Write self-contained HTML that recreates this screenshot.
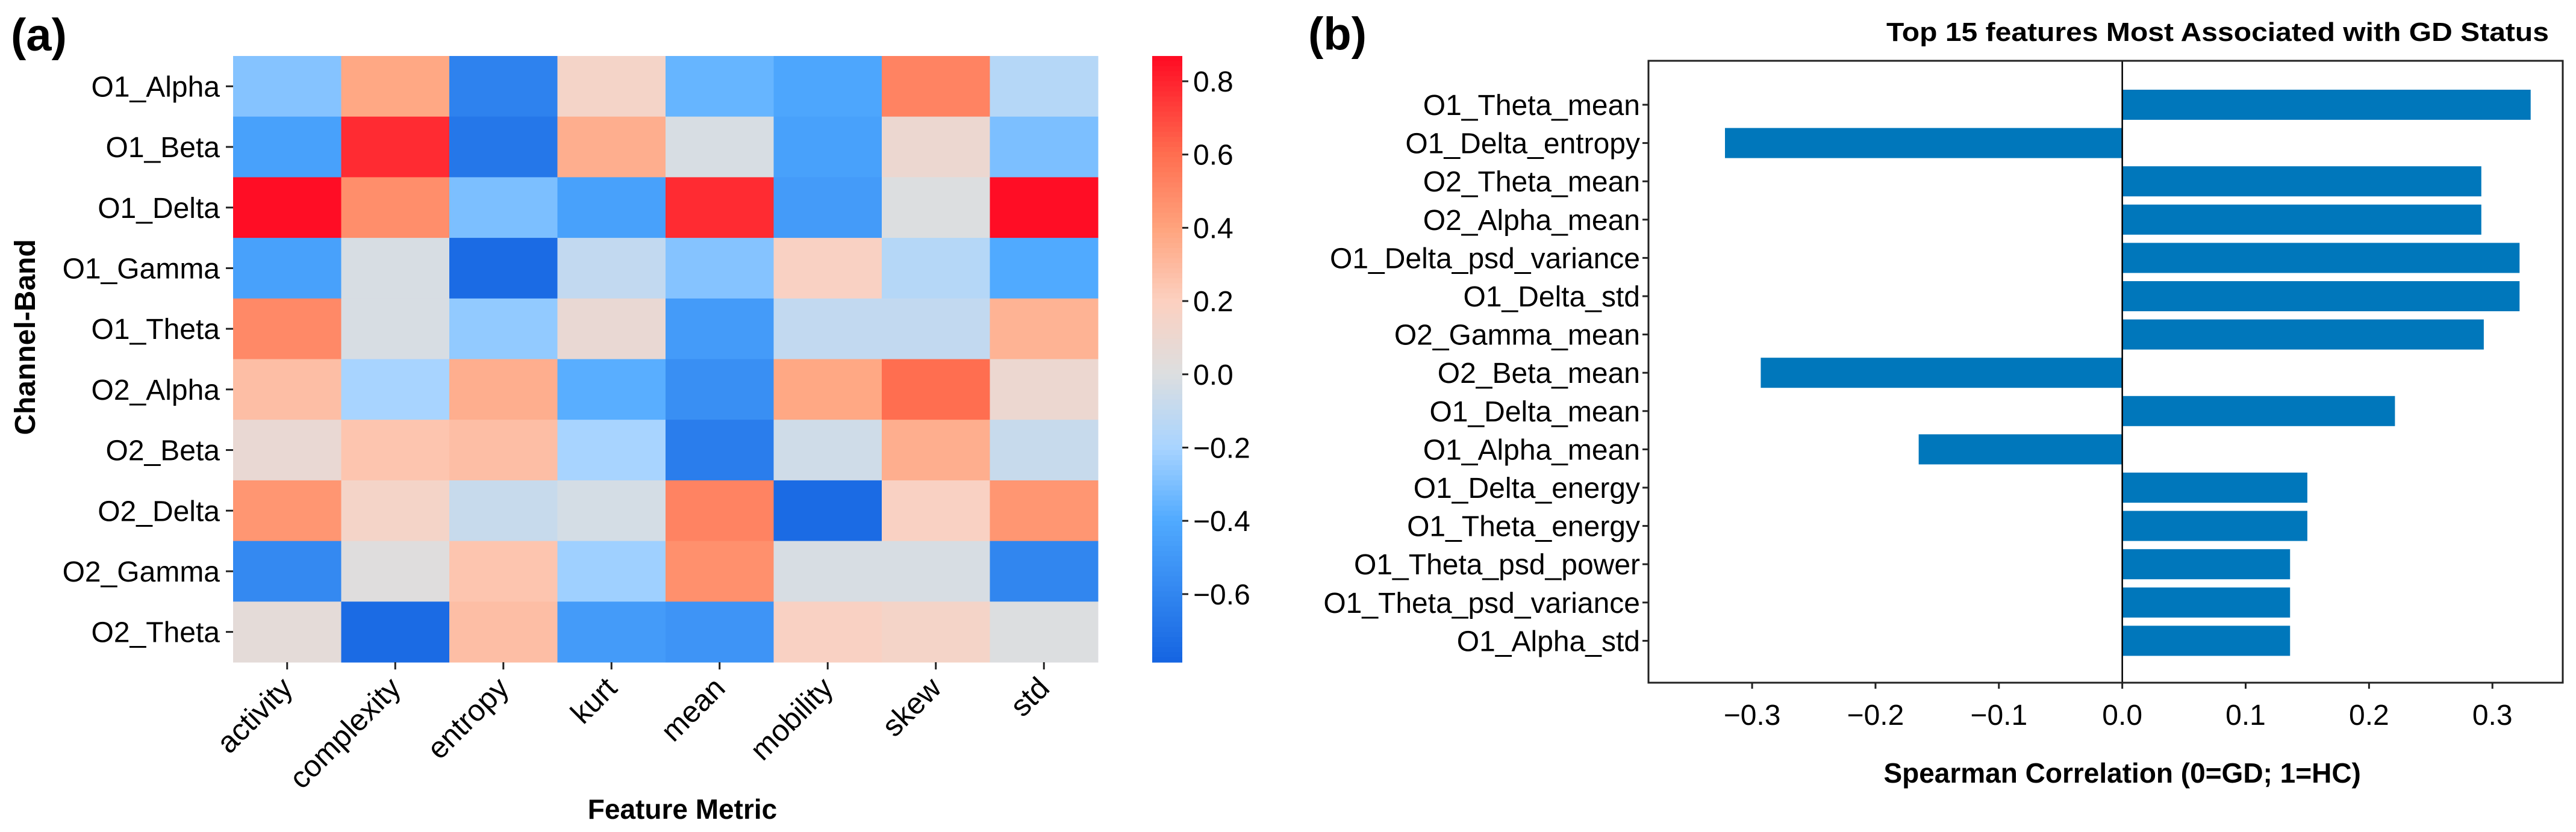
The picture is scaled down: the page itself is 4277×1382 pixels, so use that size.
<!DOCTYPE html>
<html><head><meta charset="utf-8">
<style>
html,body{margin:0;padding:0;background:#fff;}
svg{display:block;font-family:"Liberation Sans",sans-serif;}
</style></head>
<body>
<svg id="fig" width="4277" height="1382" viewBox="0 0 4277 1382" xmlns="http://www.w3.org/2000/svg">
<rect width="4277" height="1382" fill="#fff"/>
<g id="pa"></g>
<g id="pb"></g>
</svg>
<script>
// ---- Panel (a) data ----
const rowLabels = ["O1_Alpha","O1_Beta","O1_Delta","O1_Gamma","O1_Theta","O2_Alpha","O2_Beta","O2_Delta","O2_Gamma","O2_Theta"];
const colLabels = ["activity","complexity","entropy","kurt","mean","mobility","skew","std"];
const heatValues = [
 [-0.28, 0.38,-0.62, 0.15,-0.35,-0.42, 0.52,-0.15],
 [-0.45, 0.78,-0.68, 0.35,-0.02,-0.45, 0.10,-0.30],
 [ 0.86, 0.48,-0.30,-0.45, 0.78,-0.48, 0.00, 0.86],
 [-0.45,-0.02,-0.75,-0.10,-0.28, 0.18,-0.15,-0.40],
 [ 0.50,-0.02,-0.25, 0.08,-0.48,-0.10,-0.10, 0.33],
 [ 0.28,-0.20, 0.35,-0.38,-0.55, 0.38, 0.60, 0.10],
 [ 0.08, 0.25, 0.28,-0.20,-0.65,-0.05, 0.35,-0.08],
 [ 0.45, 0.15,-0.08,-0.03, 0.52,-0.75, 0.18, 0.45],
 [-0.58, 0.02, 0.25,-0.22, 0.47,-0.02,-0.02,-0.60],
 [ 0.05,-0.75, 0.28,-0.48,-0.52, 0.18, 0.15, 0.00]
];
const cbarTicks = [0.8,0.6,0.4,0.2,0.0,-0.2,-0.4,-0.6];
const cbarTickLabels = ["0.8","0.6","0.4","0.2","0.0","\u22120.2","\u22120.4","\u22120.6"];
const cbarMin = -0.786, cbarMax = 0.869;

// ---- Panel (b) data ----
const featureNames = ["O1_Theta_mean","O1_Delta_entropy","O2_Theta_mean","O2_Alpha_mean","O1_Delta_psd_variance","O1_Delta_std","O2_Gamma_mean","O2_Beta_mean","O1_Delta_mean","O1_Alpha_mean","O1_Delta_energy","O1_Theta_energy","O1_Theta_psd_power","O1_Theta_psd_variance","O1_Alpha_std"];
const corrValues = [0.331,-0.322,0.291,0.291,0.322,0.322,0.293,-0.293,0.221,-0.165,0.150,0.150,0.136,0.136,0.136];
const xTicks = [-0.3,-0.2,-0.1,0.0,0.1,0.2,0.3];
const xTickLabels = ["\u22120.3","\u22120.2","\u22120.1","0.0","0.1","0.2","0.3"];

const NS="http://www.w3.org/2000/svg";
function mk(parent,tag,attrs,text){const e=document.createElementNS(NS,tag);for(const k in attrs)e.setAttribute(k,attrs[k]);if(text!==undefined)e.textContent=text;parent.appendChild(e);return e;}

// colormap
const stops=[[-0.786,[21,100,225]],[-0.4,[80,170,255]],[-0.2,[168,212,255]],[0,[220,222,224]],[0.2,[252,208,192]],[0.4,[255,163,125]],[0.6,[255,110,80]],[0.869,[255,10,35]]];
function cmap(v){
 if(v<=stops[0][0])return rgb(stops[0][1]);
 for(let i=1;i<stops.length;i++){if(v<=stops[i][0]){const a=stops[i-1],b=stops[i];const t=(v-a[0])/(b[0]-a[0]);return rgb(a[1].map((c,k)=>c+(b[1][k]-c)*t));}}
 return rgb(stops[stops.length-1][1]);
}
function rgb(c){return "rgb("+c.map(x=>Math.round(x)).join(",")+")";}

// ---- Panel A ----
const pa=document.getElementById('pa');
const hx0=387,hx1=1823,hy0=93,hy1=1100;
const cw=(hx1-hx0)/colLabels.length, rh=(hy1-hy0)/rowLabels.length;
const xCol=j=>hx0+j*cw, yRow=i=>hy0+i*rh;
let t=mk(pa,'text',{x:18,y:84,'font-size':76,'font-weight':'bold'},'(a)');


heatValues.forEach((row,i)=>row.forEach((v,j)=>{
 const r=mk(pa,'rect',{x:xCol(j),y:yRow(i),width:cw+0.5,height:rh+0.5,fill:cmap(v)});
 
 
}));
rowLabels.forEach((l,i)=>{
 const cy=yRow(i)+rh/2;
 mk(pa,'line',{x1:hx0-12,x2:hx0,y1:cy,y2:cy,stroke:'#222','stroke-width':3});
 const e=mk(pa,'text',{x:hx0-22,y:cy+17,'font-size':48,'text-anchor':'end'},l);
 
 
});
colLabels.forEach((l,j)=>{
 const cx=xCol(j)+cw/2;
 mk(pa,'line',{x1:cx,x2:cx,y1:hy1,y2:hy1+12,stroke:'#222','stroke-width':3});
 const e=mk(pa,'text',{x:0,y:0,'font-size':50,'text-anchor':'end',transform:'translate('+(cx+12)+','+(hy1+46)+') rotate(-45)'},l);
 
 
});
t=mk(pa,'text',{x:0,y:0,'font-size':48,'font-weight':'bold','text-anchor':'middle',transform:'translate(58,560) rotate(-90)'},'Channel-Band');


t=mk(pa,'text',{x:1133,y:1360,'font-size':46,'font-weight':'bold','text-anchor':'middle'},'Feature Metric');


// colorbar
const cbx0=1913,cbx1=1963;
const cbY=v=>hy0+(cbarMax-v)/(cbarMax-cbarMin)*(hy1-hy0);
const cb=mk(pa,'g',{});


const N=120;
for(let k=0;k<N;k++){
 const v1=cbarMax-(cbarMax-cbarMin)*k/N, v2=cbarMax-(cbarMax-cbarMin)*(k+1)/N;
 mk(cb,'rect',{x:cbx0,y:cbY(v1),width:cbx1-cbx0,height:cbY(v2)-cbY(v1)+0.6,fill:cmap((v1+v2)/2)});
}
cbarTicks.forEach((v,k)=>{
 const y=cbY(v);
 mk(cb,'line',{x1:cbx1,x2:cbx1+10,y1:y,y2:y,stroke:'#222','stroke-width':3});
 const e=mk(cb,'text',{x:cbx1+18,y:y+17,'font-size':48},cbarTickLabels[k]);
 
 
});

// ---- Panel B ----
const pb=document.getElementById('pb');
const bx0=2737,bx1=4255,by0=101,by1=1134;
const xmin=-0.384,xmax=0.357;
const X=v=>bx0+(v-xmin)/(xmax-xmin)*(bx1-bx0);
const step=63.6, firstY=174, barH=50;
const Y=i=>firstY+i*step;
t=mk(pb,'text',{x:2172,y:82,'font-size':76,'font-weight':'bold'},'(b)');


t=mk(pb,'text',{x:4232,y:68,'font-size':44,'font-weight':'bold','text-anchor':'end',textLength:1100,lengthAdjust:'spacingAndGlyphs'},'Top 15 features Most Associated with GD Status');


corrValues.forEach((v,i)=>{
 const x0=X(Math.min(0,v)), x1=X(Math.max(0,v));
 const r=mk(pb,'rect',{x:x0,y:Y(i)-barH/2,width:x1-x0,height:barH,fill:'#0077bb'});
 
 
 mk(pb,'line',{x1:bx0-10,x2:bx0,y1:Y(i),y2:Y(i),stroke:'#222','stroke-width':3});
 const e=mk(pb,'text',{x:bx0-14,y:Y(i)+17,'font-size':48,'text-anchor':'end'},featureNames[i]);
 
 
});
const zl=mk(pb,'line',{x1:X(0),x2:X(0),y1:by0,y2:by1,stroke:'#000','stroke-width':2.5});


const fr=mk(pb,'rect',{x:bx0,y:by0,width:bx1-bx0,height:by1-by0,fill:'none',stroke:'#222','stroke-width':3});


xTicks.forEach((v,k)=>{
 const x=X(v);
 mk(pb,'line',{x1:x,x2:x,y1:by1,y2:by1+10,stroke:'#222','stroke-width':3});
 const e=mk(pb,'text',{x:x,y:1204,'font-size':48,'text-anchor':'middle'},xTickLabels[k]);
 
 
});
t=mk(pb,'text',{x:X(0),y:1300,'font-size':46,'font-weight':'bold','text-anchor':'middle'},'Spearman Correlation (0=GD; 1=HC)');


</script>
</body></html>
